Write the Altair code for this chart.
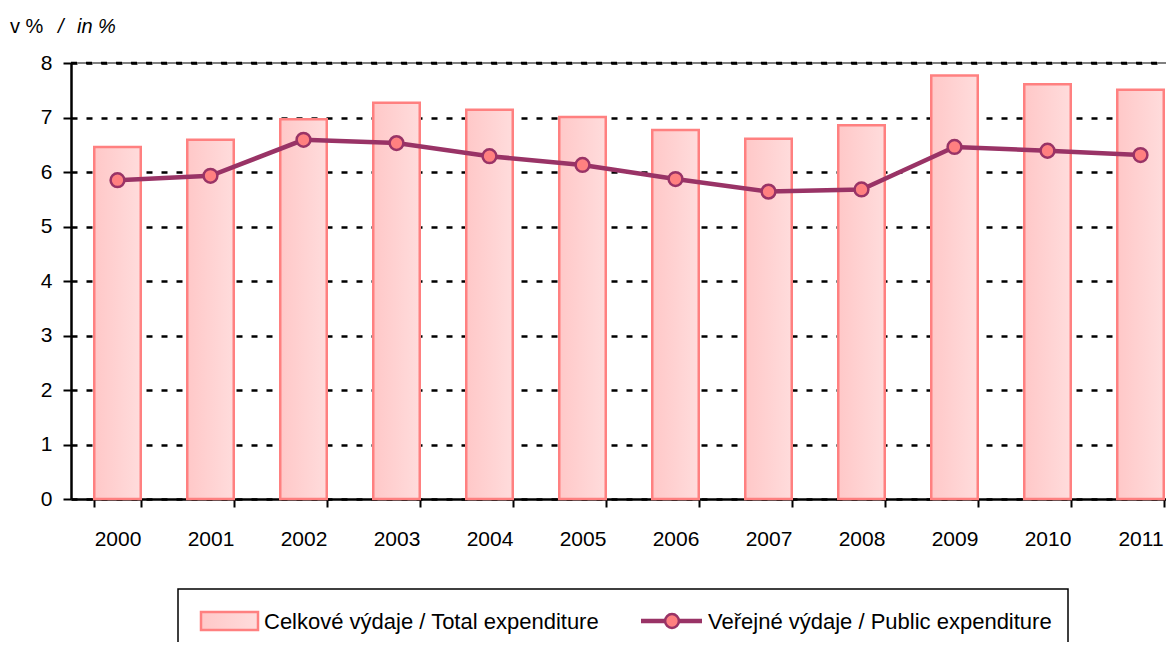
import altair as alt
import pandas as pd

years = ["2000", "2001", "2002", "2003", "2004", "2005", "2006", "2007", "2008", "2009", "2010", "2011"]
total = [6.46, 6.59, 6.97, 7.27, 7.14, 7.01, 6.77, 6.61, 6.86, 7.77, 7.61, 7.51]
public = [5.85, 5.93, 6.59, 6.53, 6.29, 6.13, 5.87, 5.64, 5.68, 6.46, 6.39, 6.31]
y_ticks = [0, 1, 2, 3, 4, 5, 6, 7, 8]

label_total = "Celkové výdaje / Total expenditure"
label_public = "Veřejné výdaje / Public expenditure"

df = pd.DataFrame({"year": years, "total": total, "public": public})
one = pd.DataFrame({"a": [0]})

FONT = "Liberation Sans"
W, H = 1095, 436
LINE = "#993366"
PT = "#FF8080"

xscale = alt.Scale(range=[0, 1116], paddingInner=0.5, paddingOuter=0.25)
x = alt.X("year:N", scale=xscale, sort=years,
          axis=alt.Axis(title=None, labelAngle=0, bandPosition=0, tickBand="extent",
                        labelPadding=21, grid=False))
yscale = alt.Scale(domain=[0, 8], nice=False)
yaxis = alt.Axis(title=None, values=y_ticks, grid=True, gridDash=[6, 9], gridColor="black",
                 gridWidth=2.5, labelPadding=11)

grad = alt.Gradient(gradient="linear", stops=[alt.GradientStop(color="#FFC8C8", offset=0),
                                              alt.GradientStop(color="#FFDCDC", offset=1)],
                    x1=0, x2=1, y1=0, y2=0)

bars = alt.Chart(df).mark_bar(fill=grad, stroke="#FF8080", strokeWidth=2.5).encode(
    x=x, y=alt.Y("total:Q", scale=yscale, axis=yaxis))

top_rule = alt.Chart(one).mark_rule(color="#808080", strokeWidth=2).encode(
    y=alt.datum(8), x=alt.value(0), x2=alt.value(W))
top_rule2 = alt.Chart(one).mark_rule(color="black", strokeWidth=2.5, strokeDash=[6, 9]).encode(
    y=alt.datum(8), x=alt.value(0), x2=alt.value(W))

line = alt.Chart(df).mark_line(color=LINE, strokeWidth=4.5).encode(
    x=alt.X("year:N", sort=years), y=alt.Y("public:Q"))
pts = alt.Chart(df).mark_point(filled=True, fill=PT, stroke=LINE, strokeWidth=2.5,
                                size=190, opacity=1, shape="circle").encode(
    x=alt.X("year:N", sort=years), y=alt.Y("public:Q"))

# y-axis unit label
t1 = alt.Chart(one).mark_text(text="v %", font=FONT, fontSize=20, align="left", baseline="middle",
                              color="black").encode(x=alt.value(-61), y=alt.value(-36))
t2 = alt.Chart(one).mark_text(text="/", font=FONT, fontSize=20, align="left", baseline="middle",
                              fontStyle="italic", color="black").encode(x=alt.value(-13), y=alt.value(-36))
t3 = alt.Chart(one).mark_text(text="in %", font=FONT, fontSize=20, align="left", baseline="middle",
                              fontStyle="italic", color="black").encode(x=alt.value(6), y=alt.value(-36))

# legend
box = alt.Chart(one).mark_rect(fill="white", stroke="black", strokeWidth=1.5).encode(
    x=alt.value(107), x2=alt.value(997), y=alt.value(526), y2=alt.value(620))
sw = alt.Chart(one).mark_rect(fill=grad, stroke="#FF8080", strokeWidth=2.5).encode(
    x=alt.value(130), x2=alt.value(187), y=alt.value(549), y2=alt.value(567))
lt1 = alt.Chart(one).mark_text(text=label_total, font=FONT, fontSize=22, align="left",
                               baseline="middle", color="black").encode(x=alt.value(193), y=alt.value(559))
lsym = alt.Chart(one).mark_rule(color=LINE, strokeWidth=4.5).encode(
    x=alt.value(570), x2=alt.value(631), y=alt.value(558))
lpt = alt.Chart(one).mark_point(filled=True, fill=PT, stroke=LINE, strokeWidth=2.5, size=190,
                                opacity=1, shape="circle").encode(x=alt.value(601), y=alt.value(558))
lt2 = alt.Chart(one).mark_text(text=label_public, font=FONT, fontSize=22, align="left",
                               baseline="middle", color="black").encode(x=alt.value(637), y=alt.value(559))

chart = alt.layer(bars, top_rule, top_rule2, line, pts, t1, t2, t3, box, sw, lt1, lsym, lpt, lt2).properties(
    width=W, height=H,
    background="white",
    autosize=alt.AutoSizeParams(type="none"),
    padding={"left": 63, "top": 55, "right": 0, "bottom": 143},
).configure_view(stroke=None).configure_axis(
    labelFont=FONT, labelFontSize=21, labelColor="black",
    domainColor="black", domainWidth=2.5, tickColor="black", tickWidth=2, tickSize=8,
)

chart.save("out.html", embed_options={"renderer": "svg", "actions": False})
